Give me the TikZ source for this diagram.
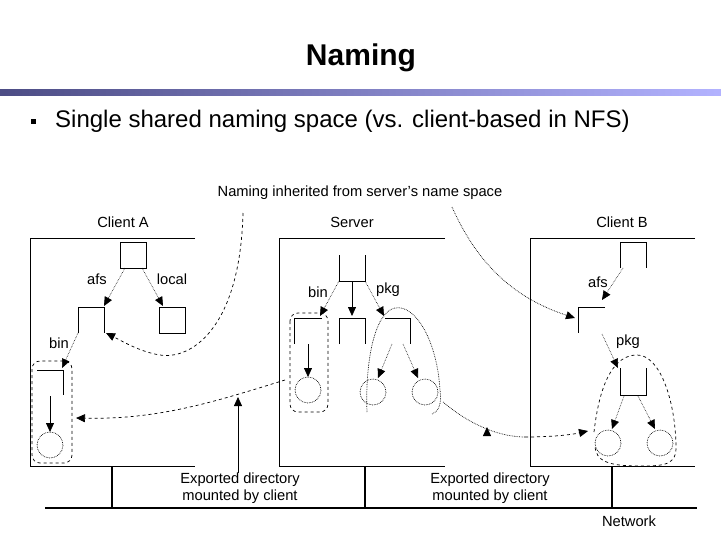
\documentclass[tikz,border=0pt]{standalone}
\usepackage{fontspec}
\setmainfont{Liberation Sans}
\usetikzlibrary{arrows.meta}
\begin{document}
\begin{tikzpicture}[x=1pt,y=-1pt,
  lbl/.style={font=\fontsize{14.7}{17}\selectfont,inner sep=0pt},
  frame/.style={line width=0.9pt},
  dirl/.style={line width=0.8pt},
  tip/.style={-{Triangle[length=9pt,width=8pt]}},
  dotarr/.style={tip,densely dotted,line width=0.6pt},
  solarr/.style={tip,line width=0.8pt},
  dsh/.style={dashed,line width=0.7pt},
  dot/.style={densely dotted,line width=0.7pt},
  net/.style={line width=2.4pt}]
\useasboundingbox (0,0) rectangle (721,541);
\fill[white] (0,0) rectangle (721,541);
% title
\node[font=\fontsize{30}{34}\selectfont\bfseries] (title) at (361,58) {Naming};
\shade[left color=black!45!blue!40!gray, right color=blue!30!white] (0,89) rectangle (721,95);
\node[inner sep=0pt,minimum size=5pt,fill=black] (bul) at (33,121) {};
\node[anchor=west,font=\fontsize{24}{28}\selectfont,inner sep=0pt] (btxt) at (55,121) {Single shared naming space (vs. client-based in NFS)};
% labels
\node[lbl] (inh) at (360,193) {Naming inherited from server's name space};
\node[lbl] (ca) at (123,222) {Client A};
\node[lbl] (sv) at (352,222) {Server};
\node[lbl] (cb) at (622,222) {Client B};
% frames
\draw[frame] (195,238) -- (30,238) -- (30,466) -- (195,466);
\draw[frame] (445,238) -- (279,238) -- (279,466) -- (445,466);
\draw[frame] (695,238) -- (530,238) -- (530,466) -- (695,466);
% network
\draw[net] (45,508) -- (697,508);
\coordinate (t1) at (112,466); \coordinate (b1) at (112,508);
\coordinate (t2) at (365,466); \coordinate (b2) at (365,508);
\coordinate (t3) at (612,466); \coordinate (b3) at (612,508);
\draw[net] (t1) -- (b1); \draw[net] (t2) -- (b2); \draw[net] (t3) -- (b3);
\node[lbl,align=center,font=\fontsize{14.7}{16.5}\selectfont] (ex1) at (240,488) {Exported directory\\mounted by client};
\node[lbl,align=center,font=\fontsize{14.7}{16.5}\selectfont] (ex2) at (490,488) {Exported directory\\mounted by client};
\node[lbl] (netl) at (629,521) {Network};
\coordinate (u1) at (238,397);
\draw[solarr] (ex1.north -| u1) -- (u1);
\coordinate (u2a) at (487,435); \coordinate (u2) at (487,427);
\draw[solarr] (u2a) -- (u2);
% Client A tree
\draw[dirl] (120,242) rectangle (146,268);
\coordinate (aroot1) at (125,268); \coordinate (aroot2) at (142,268);
\draw[dirl] (78,333) -- (78,307) -- (104,307) -- (104,333);
\draw[dirl] (159,307) rectangle (185,333);
\node[lbl] (afsA) at (97,279) {afs};
\node[lbl] (locA) at (172,279) {local};
\draw[dotarr] (aroot1) -- (104,306);
\draw[dotarr] (aroot2) -- (163,306);
\node[lbl] (binA) at (59,343) {bin};
\draw[dotarr] (78,333) -- (62,368);
\draw[dirl] (37,370) -- (63,370) -- (63,395);
\draw[solarr] (50,396) -- (50,432);
\draw[dot] (50,445) circle (13);
\draw[dsh,rounded corners=8pt] (32,361) rectangle (72,463);
% curves from label
\draw[dsh,tip] (243,213) .. controls (240,330) and (190,360) .. (160,355) .. controls (140,352) and (120,340) .. (106,333);
\draw[dot,tip] (452,207) .. controls (480,270) and (520,300) .. (575,318);
% Server tree
\draw[dirl] (339,255) -- (339,281) -- (365,281) -- (365,255);
\node[lbl] (binS) at (318,292) {bin};
\node[lbl] (pkgS) at (388,290) {pkg};
\draw[dotarr] (339,281) -- (320,316);
\draw[solarr] (352,281) -- (352,316);
\draw[dotarr] (365,281) -- (384,316);
\draw[dirl] (322,318) -- (294,318) -- (294,344);
\draw[dirl] (339,344) -- (339,318) -- (365,318) -- (365,344);
\draw[dirl] (385,318) -- (410,318) -- (410,344);
\draw[solarr] (308,344) -- (308,377);
\draw[dot] (308,390) circle (13);
\draw[dsh,rounded corners=8pt] (290,313) rectangle (328,412);
\draw[dotarr] (392,344) -- (378,378);
\draw[dotarr] (403,344) -- (418,378);
\draw[dot] (373,392) circle (13);
\draw[dot] (425,392) circle (13);
\draw[dot] (367,412) .. controls (365,360) and (375,312) .. (395,308) .. controls (415,304) and (437,340) .. (440,390) .. controls (442,405) and (438,412) .. (432,414);
% server -> client A mount curve
\draw[dsh,tip] (285,380) .. controls (220,400) and (160,420) .. (76,418);
% server pkg -> client B
\draw[dot] (443,402) .. controls (470,425) and (500,437) .. (525,437);
\draw[dsh,tip] (525,437) .. controls (550,437) and (570,435) .. (588,431);
% Client B tree
\draw[dirl] (620,268) -- (620,242) -- (646,242) -- (646,268);
\node[lbl] (afsB) at (598,282) {afs};
\draw[dotarr] (623,268) -- (602,300);
\draw[dirl] (605,307) -- (578,307) -- (578,333);
\node[lbl] (pkgB) at (628,342) {pkg};
\draw[dotarr] (602,334) -- (618,368);
\draw[dirl] (620,368) -- (620,395) -- (646,395) -- (646,368);
\draw[dotarr] (624,396) -- (612,429);
\draw[dotarr] (638,396) -- (655,429);
\draw[dot] (608,443) circle (13);
\draw[dot] (660,443) circle (13);
\draw[dsh] (594,432) .. controls (600,380) and (615,355) .. (637,355) .. controls (660,355) and (675,400) .. (676,445) .. controls (677,465) and (665,466) .. (640,466) .. controls (610,466) and (595,462) .. (595,445);
\end{tikzpicture}
\end{document}
